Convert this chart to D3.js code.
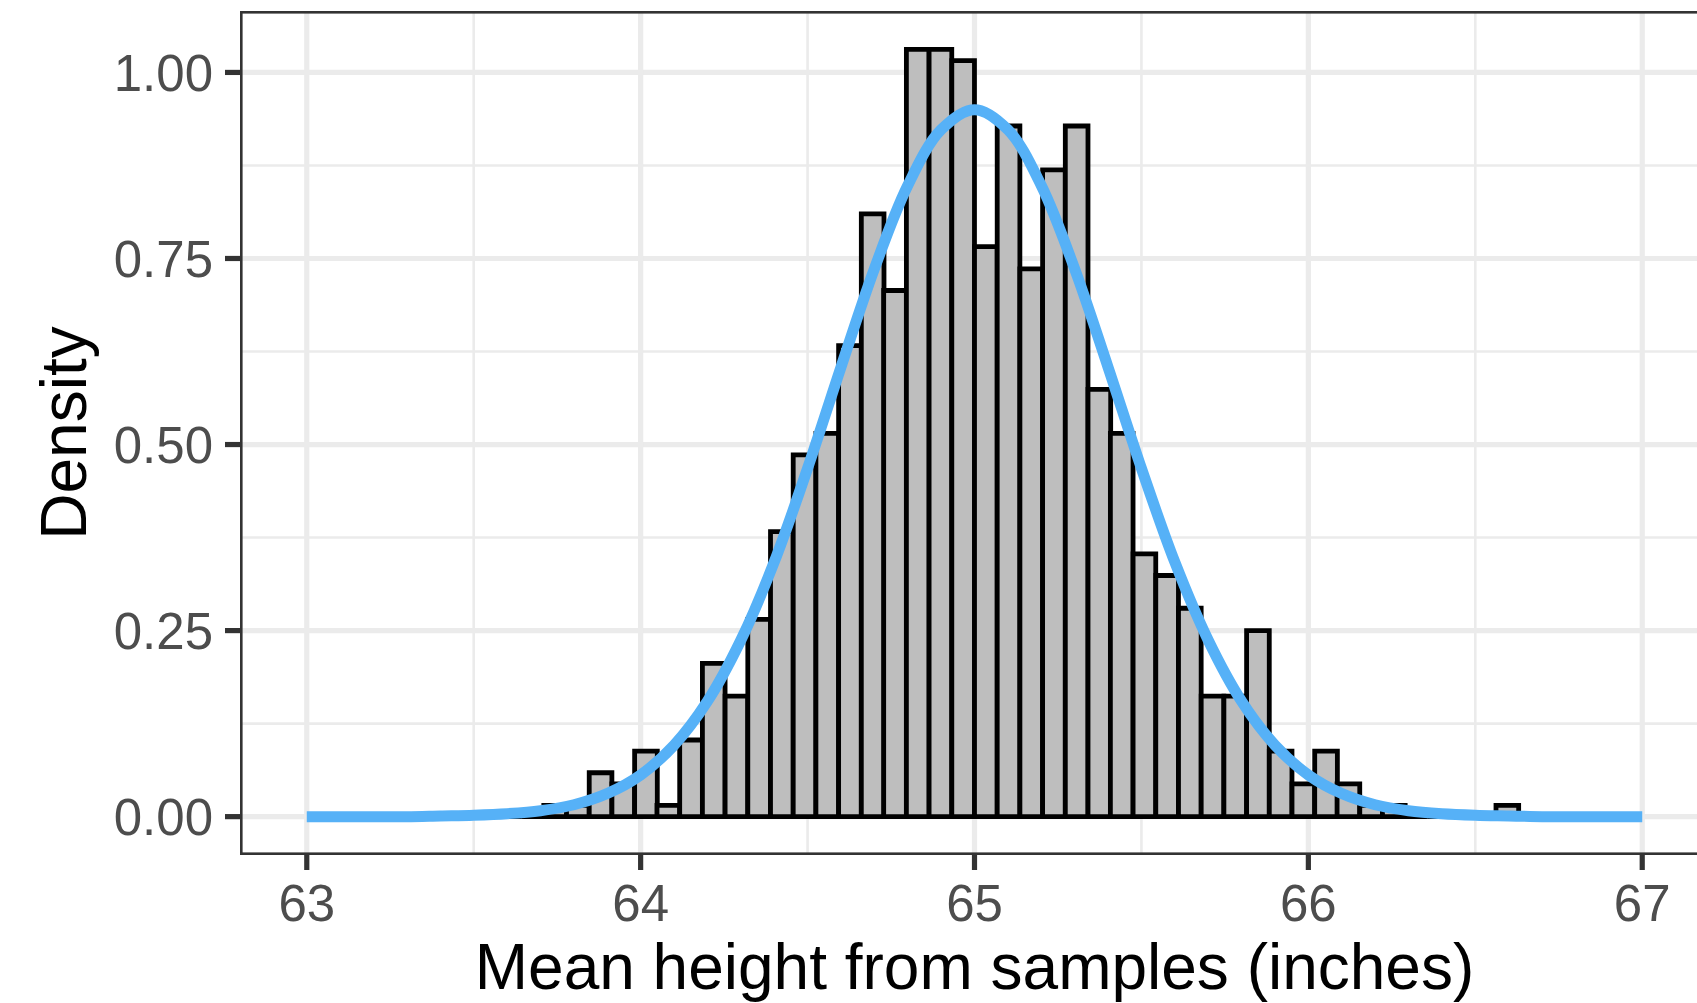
<!DOCTYPE html>
<html>
<head>
<meta charset="utf-8">
<script src="https://cdn.jsdelivr.net/npm/d3@7"></script>
<style>
  html, body { margin: 0; padding: 0; background: #ffffff; }
  svg { display: block; }
  text { font-family: "Liberation Sans", Arial, Helvetica, sans-serif; }
</style>
</head>
<body>
<script>
// ---------- data ----------
const binWidth = 0.0679;
const binLeft = [63.506, 63.574, 63.642, 63.710, 63.778, 63.846, 63.914, 63.982, 64.049, 64.117,
  64.185, 64.253, 64.321, 64.389, 64.457, 64.525, 64.593, 64.661, 64.728, 64.796,
  64.864, 64.932, 65.000, 65.068, 65.136, 65.204, 65.272, 65.340, 65.407, 65.475,
  65.543, 65.611, 65.679, 65.747, 65.815, 65.883, 65.951, 66.019, 66.086, 66.154,
  66.222, 66.290, 66.358, 66.426, 66.494, 66.562, 66.630, 66.698];
const binDensity = [0, 0, 0, 0.015, 0.015, 0.059, 0.044, 0.088, 0.015, 0.103,
  0.206, 0.162, 0.265, 0.383, 0.486, 0.515, 0.633, 0.810, 0.707, 1.031,
  1.031, 1.016, 0.766, 0.928, 0.736, 0.869, 0.928, 0.574, 0.515, 0.353,
  0.324, 0.280, 0.162, 0.162, 0.250, 0.088, 0.044, 0.088, 0.044, 0.015,
  0.015, 0, 0, 0, 0, 0.015, 0, 0];

const curveX = [63.0, 63.1, 63.2, 63.3, 63.4, 63.5, 63.6, 63.7, 63.8, 63.9,
  64.0, 64.1, 64.2, 64.3, 64.4, 64.5, 64.6, 64.7, 64.8, 64.9,
  65.0, 65.1, 65.2, 65.3, 65.4, 65.5, 65.6, 65.7, 65.8, 65.9,
  66.0, 66.1, 66.2, 66.3, 66.4, 66.5, 66.6, 66.7, 66.8, 66.9, 67.0];
const curveY = [0.000, 0.000, 0.000, 0.000, 0.001, 0.002, 0.004, 0.008, 0.016, 0.031,
  0.056, 0.096, 0.155, 0.237, 0.342, 0.468, 0.604, 0.736, 0.848, 0.923,
  0.950, 0.923, 0.848, 0.736, 0.604, 0.468, 0.342, 0.237, 0.155, 0.096,
  0.056, 0.031, 0.016, 0.008, 0.004, 0.002, 0.001, 0.000, 0.000, 0.000, 0.000];

const xMajor = [63, 64, 65, 66, 67];
const xMinor = [63.5, 64.5, 65.5, 66.5];
const yMajor = [0, 0.25, 0.5, 0.75, 1.0];
const yMinor = [0.125, 0.375, 0.625, 0.875];
const yTickLabels = ["0.00", "0.25", "0.50", "0.75", "1.00"];
const xTickLabels = ["63", "64", "65", "66", "67"];
const xTitle = "Mean height from samples (inches)";
const yTitle = "Density";

// ---------- layout ----------
const W = 1697, H = 1003;
const P = { left: 240, top: 11, right: 1709, bottom: 855 };

const svg = d3.select("body").append("svg")
  .attr("width", W).attr("height", H).attr("viewBox", `0 0 ${W} ${H}`);

svg.append("rect").attr("width", W).attr("height", H).attr("fill", "#ffffff");

const x = d3.scaleLinear().domain([62.8, 67.2]).range([P.left, P.right]);
const yMax = d3.max(binDensity);
const y = d3.scaleLinear().domain([-0.05 * yMax, 1.05 * yMax]).range([P.bottom, P.top]);

svg.append("defs").append("clipPath").attr("id", "panel")
  .append("rect").attr("x", P.left).attr("y", P.top)
  .attr("width", P.right - P.left).attr("height", P.bottom - P.top);

const panel = svg.append("g").attr("clip-path", "url(#panel)");

// gridlines
const gridMajorW = 5.2, gridMinorW = 2.6;
panel.selectAll("line.yminor").data(yMinor).enter().append("line")
  .attr("x1", P.left).attr("x2", P.right)
  .attr("y1", d => y(d)).attr("y2", d => y(d))
  .attr("stroke", "#EBEBEB").attr("stroke-width", gridMinorW);
panel.selectAll("line.xminor").data(xMinor).enter().append("line")
  .attr("y1", P.top).attr("y2", P.bottom)
  .attr("x1", d => x(d)).attr("x2", d => x(d))
  .attr("stroke", "#EBEBEB").attr("stroke-width", gridMinorW);
panel.selectAll("line.ymajor").data(yMajor).enter().append("line")
  .attr("x1", P.left).attr("x2", P.right)
  .attr("y1", d => y(d)).attr("y2", d => y(d))
  .attr("stroke", "#EBEBEB").attr("stroke-width", gridMajorW);
panel.selectAll("line.xmajor").data(xMajor).enter().append("line")
  .attr("y1", P.top).attr("y2", P.bottom)
  .attr("x1", d => x(d)).attr("x2", d => x(d))
  .attr("stroke", "#EBEBEB").attr("stroke-width", gridMajorW);

// histogram bars
const bins = binLeft.map((l, i) => ({ x0: l, x1: l + binWidth, d: binDensity[i] }));
panel.selectAll("path.bar").data(bins).enter().append("path")
  .attr("d", b => {
    const p = d3.path();
    p.moveTo(x(b.x0), y(0));
    p.lineTo(x(b.x0), y(b.d));
    p.lineTo(x(b.x1), y(b.d));
    p.lineTo(x(b.x1), y(0));
    p.closePath();
    return p.toString();
  })
  .attr("fill", "#BEBEBE")
  .attr("stroke", "#000000")
  .attr("stroke-width", 4.8)
  .attr("stroke-linejoin", "miter");

// normal curve
const line = d3.line().x((d, i) => x(curveX[i])).y(d => y(d)).curve(d3.curveCatmullRom.alpha(0.5));
panel.append("path").datum(curveY)
  .attr("d", line)
  .attr("fill", "none")
  .attr("stroke", "#56B1F7")
  .attr("stroke-width", 11)
  .attr("stroke-linecap", "butt")
  .attr("stroke-linejoin", "round");

// panel border (clipped, so only inner half visible)
panel.append("rect")
  .attr("x", P.left).attr("y", P.top)
  .attr("width", P.right - P.left).attr("height", P.bottom - P.top)
  .attr("fill", "none").attr("stroke", "#333333").attr("stroke-width", 5.2);

// axis ticks
const tickLen = 15, tickW = 5.2;
svg.selectAll("line.ytick").data(yMajor).enter().append("line")
  .attr("x1", P.left - tickLen).attr("x2", P.left)
  .attr("y1", d => y(d)).attr("y2", d => y(d))
  .attr("stroke", "#333333").attr("stroke-width", tickW);
svg.selectAll("line.xtick").data(xMajor).enter().append("line")
  .attr("y1", P.bottom).attr("y2", P.bottom + tickLen)
  .attr("x1", d => x(d)).attr("x2", d => x(d))
  .attr("stroke", "#333333").attr("stroke-width", tickW);

// tick labels
const tickFont = 51;
svg.selectAll("text.ylab").data(yMajor).enter().append("text")
  .attr("x", P.left - tickLen - 12)
  .attr("y", d => y(d) + tickFont * 0.358)
  .attr("text-anchor", "end")
  .attr("font-size", tickFont)
  .attr("fill", "#4D4D4D")
  .text((d, i) => yTickLabels[i]);
svg.selectAll("text.xlab").data(xMajor).enter().append("text")
  .attr("x", d => x(d))
  .attr("y", 921)
  .attr("text-anchor", "middle")
  .attr("font-size", tickFont)
  .attr("fill", "#4D4D4D")
  .text((d, i) => xTickLabels[i]);

// axis titles
svg.append("text")
  .attr("x", (P.left + P.right) / 2).attr("y", 989)
  .attr("text-anchor", "middle")
  .attr("font-size", 64)
  .attr("fill", "#000000")
  .text(xTitle);
svg.append("text")
  .attr("transform", `translate(86, ${(P.top + P.bottom) / 2}) rotate(-90)`)
  .attr("text-anchor", "middle")
  .attr("font-size", 64)
  .attr("fill", "#000000")
  .text(yTitle);
</script>
</body>
</html>
